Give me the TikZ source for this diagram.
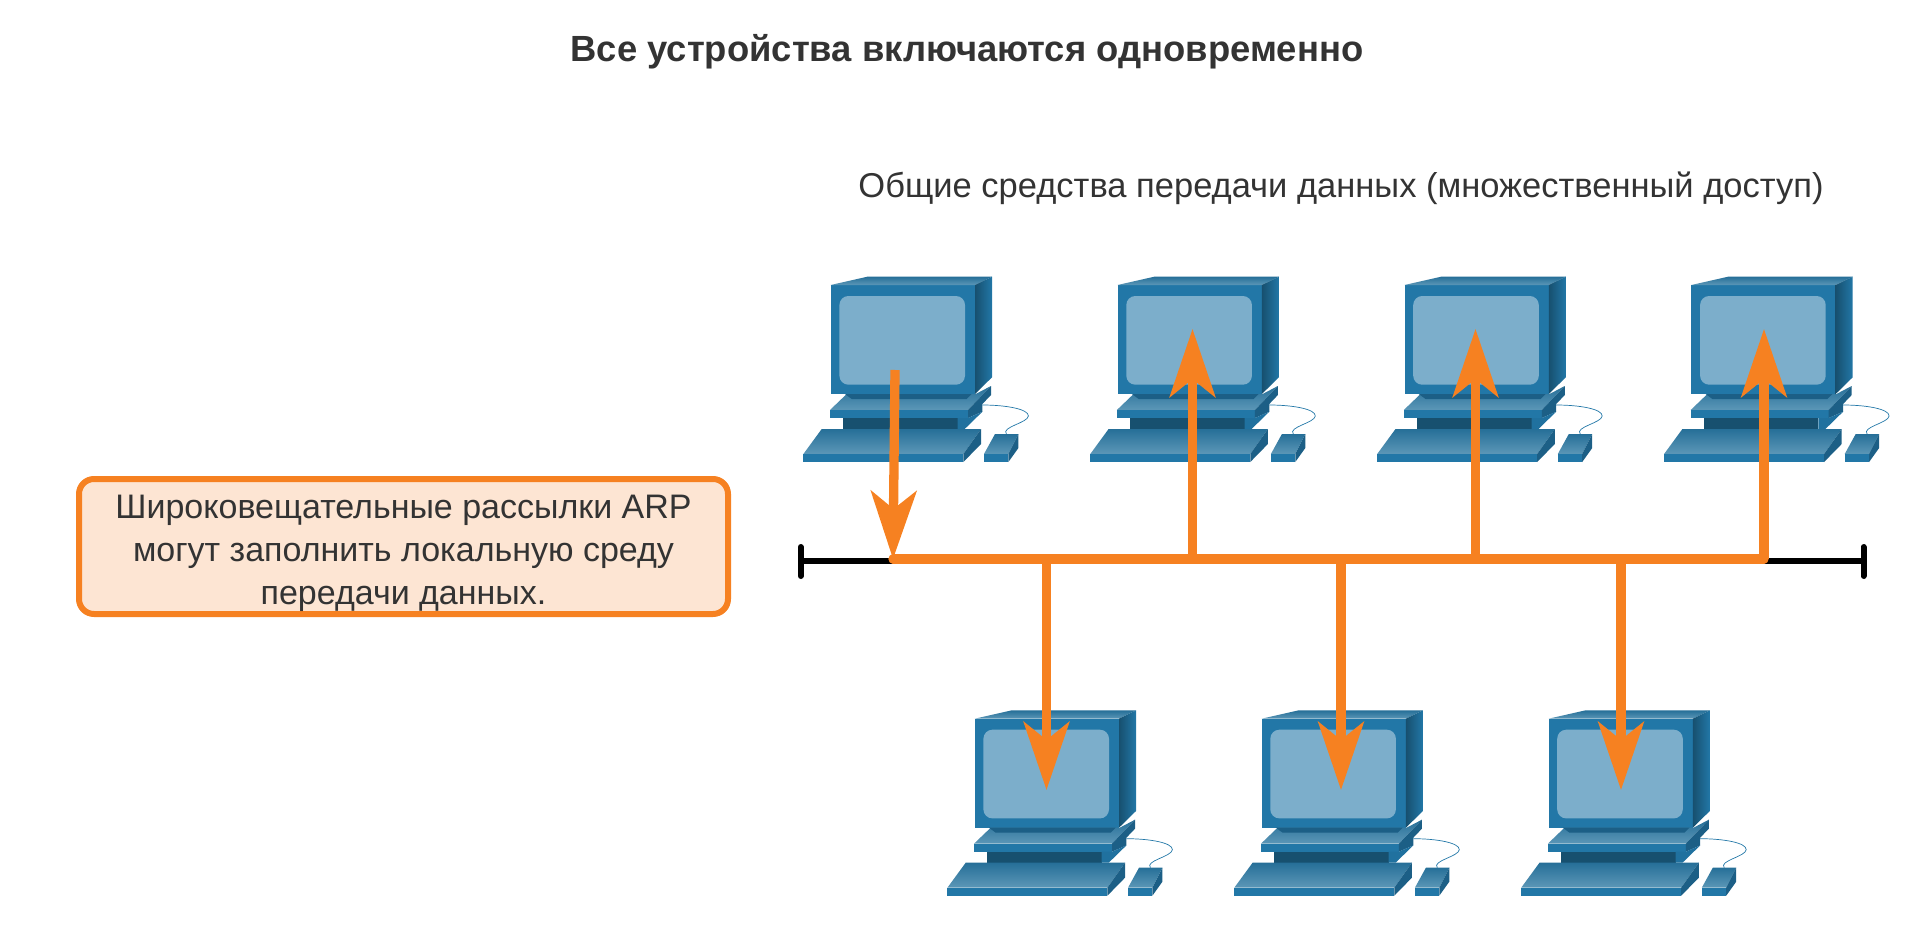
\documentclass[tikz,border=0pt]{standalone}
\usepackage{fontspec}
\setmainfont{Liberation Sans}
\usepackage{xcolor}
\usetikzlibrary{arrows.meta}

\definecolor{castorange}{HTML}{F68121}
\definecolor{notefill}{HTML}{FDE5D3}
\definecolor{inktext}{HTML}{333333}
\definecolor{pcfront}{HTML}{2277A7}
\definecolor{pcdark}{HTML}{1C5F86}
\definecolor{pcdeep}{HTML}{17506F}
\definecolor{pcface}{HTML}{266F98}
\definecolor{pclight}{HTML}{5C97B7}
\definecolor{pcscreen}{HTML}{7CAECB}

\tikzset{
	computer/.pic={
		% monitor
		\fill[pcfront] (0,0) rectangle (144.3,109);
		\shade[top color=pcface,bottom color=pclight,draw=none] (0,0) -- (36.7,-8.3) -- (161.3,-8.3) -- (144.3,0) -- cycle;
		\shade[left color=pcdeep,right color=pcfront,draw=none] (144.3,0) -- (161.3,-8.3) -- (161.3,92.3) -- (144.3,109) -- cycle;
		\fill[pcscreen,rounded corners=9pt] (8.7,11) rectangle (134.3,99.7);
		% base
		\shade[top color=pcface,bottom color=pclight,draw=none] (-0.7,125) -- (16,109) -- (145,109) -- (160.3,101) -- (137.3,125) -- cycle;
		\fill[pcdark] (14.3,109) -- (141,109) -- (136,114) -- (21,114) -- cycle;
		\fill[pcfront] (-0.7,125) rectangle (137.3,133);
		\fill[pcdark] (137.3,125) -- (160.3,101) -- (160.3,110) -- (151.7,119) -- (151.7,126.7) -- (137.3,133) -- cycle;
		\fill[pcdeep] (12.7,133) rectangle (127,144);
		\fill[pcfront!85!pcdeep] (127,133) -- (137.3,133) -- (151.7,126.7) -- (134,144) -- (127,144) -- cycle;
		% keyboard
		\shade[top color=pcface,bottom color=pclight,draw=none] (-9,144) -- (150.3,144) -- (132.7,169) -- (-27.3,169) -- cycle;
		\fill[pcfront] (-27.3,169) rectangle (132.7,177);
		\fill[pcdark] (132.7,169) -- (150.3,144) -- (150.3,159) -- (132.7,177) -- cycle;
		% mouse
		\shade[top color=pcface,bottom color=pclight,draw=none] (164.3,149) -- (187.7,149) -- (177.7,169) -- (153.3,169) -- cycle;
		\fill[pcfront] (153.3,169) rectangle (177.7,177);
		\fill[pcdark] (177.7,169) -- (187.7,149) -- (187.7,163) -- (177.7,177) -- cycle;
		\draw[pcfront,line width=0.7pt] (151.7,120) .. controls (175,120) and (198,124) .. (197.7,131) .. controls (197,138) and (170,142) .. (175.7,149);
	}
}

\begin{document}
\begin{tikzpicture}[x=1pt,y=-1pt]
	\tikzstyle{heading}=[text=inktext,font=\fontsize{36.4}{42}\selectfont\bfseries]
	\tikzstyle{caption}=[text=inktext,font=\fontsize{34.5}{40}\selectfont]
	\tikzstyle{note}=[draw=castorange,fill=notefill,line width=6pt,rounded corners=15pt,inner sep=0pt,minimum width=649pt,minimum height=135pt,align=center,text=inktext,font=\fontsize{34}{43}\selectfont]
	\tikzstyle{bus}=[black,line width=6pt]
	\tikzstyle{cast}=[castorange,line width=9.3pt]
	\tikzstyle{castarrow}=[cast,-{Stealth[length=68pt,width=45.5pt,inset=18pt]}]
	\useasboundingbox (0,0) rectangle (1920,928);

	\node[heading](title) at (967,52) {Все устройства включаются одновременно};
	\node[caption](medium) at (1341,188) {Общие средства передачи данных (множественный доступ)};
	\node[note](arpnote) at (403.5,546.5) {\rule{0pt}{37pt}Широковещательные рассылки ARP\\могут заполнить локальную среду\\передачи данных.};

	\pic at (830.7,285) {computer};
	\pic at (1117.6,285) {computer};
	\pic at (1404.5,285) {computer};
	\pic at (1691.4,285) {computer};
	\pic at (974.7,718.7) {computer};
	\pic at (1261.6,718.7) {computer};
	\pic at (1548.5,718.7) {computer};

	% bus with its two end stops
	\coordinate (stopL) at (800.7,560.7);
	\coordinate (stopR) at (1863.5,560.7);
	\coordinate (stopLa) at (800.7,547);
	\coordinate (stopLb) at (800.7,576);
	\coordinate (stopRa) at (1863.5,547);
	\coordinate (stopRb) at (1863.5,576);
	\draw[bus] (stopL) -- (stopR);
	\draw[bus,line cap=round] (stopLa) -- (stopLb);
	\draw[bus,line cap=round] (stopRa) -- (stopRb);

	% junctions on the bus
	\coordinate (j1) at (893,559);
	\coordinate (j2) at (1192.5,559);
	\coordinate (j3) at (1475.5,559);
	\coordinate (j4) at (1764,559);
	\coordinate (j5) at (1046.5,559);
	\coordinate (j6) at (1341,559);
	\coordinate (j7) at (1621,559);
	\draw[cast,line cap=round] (j1) -- (j4);

	% arrow ends
	\coordinate (p1) at (895,370);
	\coordinate (p2) at (1192.5,329);
	\coordinate (p3) at (1475.5,329);
	\coordinate (p4) at (1764,329);
	\coordinate (p5) at (1046.5,790);
	\coordinate (p6) at (1341,790);
	\coordinate (p7) at (1621,790);
	\draw[castarrow](p1) -- (j1);
	\draw[castarrow](j2) -- (p2);
	\draw[castarrow](j3) -- (p3);
	\draw[castarrow](j4) -- (p4);
	\draw[castarrow](j5) -- (p5);
	\draw[castarrow](j6) -- (p6);
	\draw[castarrow](j7) -- (p7);
\end{tikzpicture}
\end{document}
